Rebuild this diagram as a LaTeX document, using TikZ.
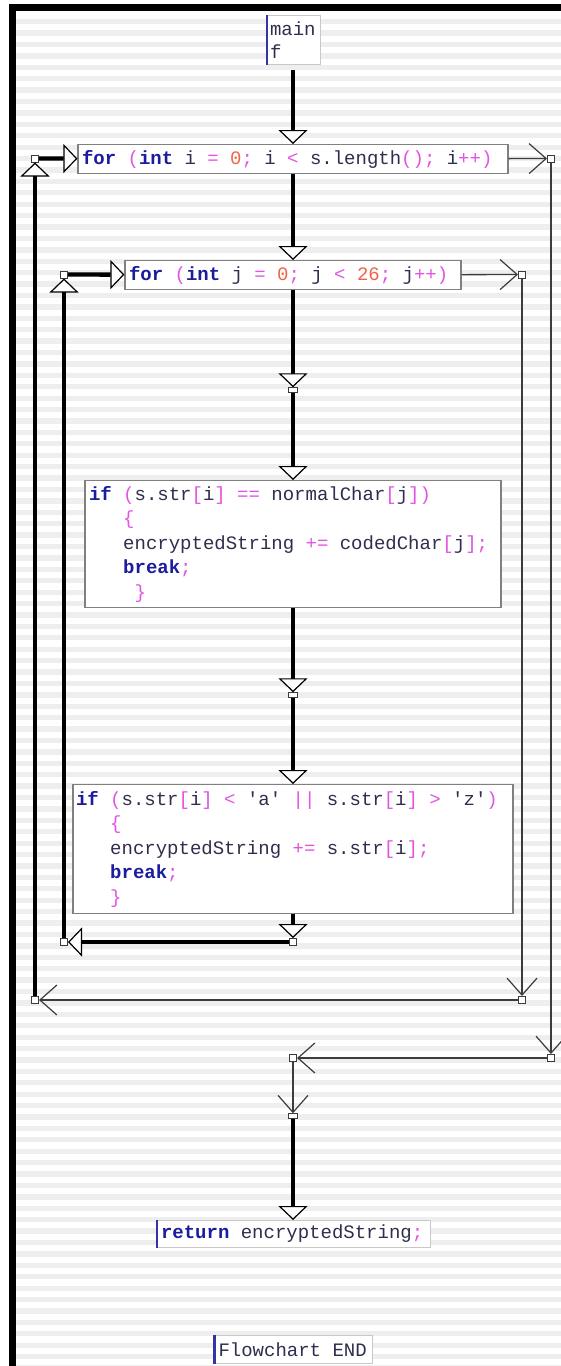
\documentclass[tikz,border=0pt]{standalone}
\usepackage{fontspec}
\usetikzlibrary{arrows.meta}
\newfontfamily\codefont{Liberation Mono}
\definecolor{kwc}{RGB}{28,28,158}
\definecolor{idc}{RGB}{46,46,78}
\definecolor{opc}{RGB}{226,84,226}
\definecolor{numc}{RGB}{242,98,72}
\definecolor{stripec}{RGB}{238,238,238}
\definecolor{barc}{RGB}{52,52,168}
\definecolor{edgec}{RGB}{128,128,128}
\definecolor{paleedge}{RGB}{200,200,200}
\definecolor{wirec}{RGB}{60,60,60}
% syntax colouring of the code text
\newcommand\cKw[1]{\textcolor{kwc}{\bfseries #1}}
\newcommand\cId[1]{\textcolor{idc}{#1}}
\newcommand\cOp[1]{\textcolor{opc}{#1}}
\newcommand\cNum[1]{\textcolor{numc}{#1}}
% one character cell of blank space
\newcommand\cS{\hspace{0.6em}}
\tikzset{
  codebox/.style={draw=edgec, line width=1.2pt, fill=white, anchor=north, align=left,
    inner ysep=2pt, font=\codefont\fontsize{19}{24.5}\selectfont},
  labelbox/.style={draw=paleedge, line width=1pt, fill=white, anchor=north, align=left,
    inner ysep=2pt, font=\codefont\fontsize{19}{23}\selectfont, text=idc},
  sq/.style={draw=wirec, fill=white, line width=1pt, minimum size=7pt, inner sep=0pt},
  jn/.style={draw=wirec, fill=white, line width=1pt, minimum width=9pt, minimum height=4.5pt, inner sep=0pt},
  flow/.style={line width=4.3pt, -{Triangle[length=14pt, width=29pt, fill=white, line width=1.2pt]}},
  wire/.style={draw=wirec, line width=1.3pt, -{Straight Barb[length=17pt, width=30pt, line width=1.2pt]}},
  bluebar/.style={draw=barc, line width=2.5pt},
}
\begin{document}
\begin{tikzpicture}[x=1pt, y=-1pt]
\useasboundingbox (0,0) rectangle (561,1366);
% striped canvas and frame
\fill[white] (0,0) rectangle (561,1366);
\foreach \k in {0,...,118} {
  \fill[stripec] (16,{19+11.41*\k}) rectangle (561,{24.3+11.41*\k});
}
\fill[black] (9,4.3) rectangle (16,1366);
\fill[black] (9,4.3) rectangle (561,10.7);

% statement boxes
\node[labelbox, inner xsep=4pt, text width=46pt, minimum height=49pt] (mainbox) at (293,15)
  {main\\f};
\node[codebox, inner xsep=4pt, text width=422pt, minimum height=29pt] (fori) at (293,144)
  {\cKw{for}\cS\cOp{(}\cKw{int}\cS\cId{i}\cS\cOp{=}\cS\cNum{0}\cOp{;}\cS\cId{i}\cS\cOp{<}\cS\cId{s.length}\cOp{();}\cS\cId{i}\cOp{++)}};
\node[codebox, inner xsep=4pt, text width=328pt, minimum height=29pt] (forj) at (293,260)
  {\cKw{for}\cS\cOp{(}\cKw{int}\cS\cId{j}\cS\cOp{=}\cS\cNum{0}\cOp{;}\cS\cId{j}\cS\cOp{<}\cS\cNum{26}\cOp{;}\cS\cId{j}\cOp{++)}};
\node[codebox, inner xsep=4pt, text width=408pt, minimum height=127pt] (ifa) at (293,480)
  {\cKw{if}\cS\cOp{(}\cId{s.str}\cOp{[}\cId{i}\cOp{]}\cS\cOp{==}\cS\cId{normalChar}\cOp{[}\cId{j}\cOp{])}\\
   \hspace*{1.8em}\cOp{\{}\\
   \hspace*{1.8em}\cId{encryptedString}\cS\cOp{+=}\cS\cId{codedChar}\cOp{[}\cId{j}\cOp{];}\\
   \hspace*{1.8em}\cKw{break}\cOp{;}\\
   \hspace*{2.4em}\cOp{\}}};
\node[codebox, inner xsep=3pt, text width=434pt, minimum height=129pt] (ifb) at (293,784)
  {\cKw{if}\cS\cOp{(}\cId{s.str}\cOp{[}\cId{i}\cOp{]}\cS\cOp{<}\cS\cId{'a'}\cS\cOp{||}\cS\cId{s.str}\cOp{[}\cId{i}\cOp{]}\cS\cOp{>}\cS\cId{'z'}\cOp{)}\\
   \hspace*{1.8em}\cOp{\{}\\
   \hspace*{1.8em}\cId{encryptedString}\cS\cOp{+=}\cS\cId{s.str}\cOp{[}\cId{i}\cOp{];}\\
   \hspace*{1.8em}\cKw{break}\cOp{;}\\
   \hspace*{1.8em}\cOp{\}}};
\node[labelbox, inner xsep=5pt, text width=264pt, minimum height=27pt] (ret) at (293,1220)
  {\cKw{return}\cS\cId{encryptedString}\cOp{;}};
\node[labelbox, inner xsep=5pt, text width=149pt, minimum height=28pt] (fend) at (293,1335)
  {Flowchart\cS END};
\foreach \b in {mainbox, ret, fend}
  \draw[bluebar] ([xshift=1.25pt]\b.north west) -- ([xshift=1.25pt]\b.south west);

% junction points
\node[sq] (Li) at (35,158.5) {};
\node[sq] (Ri) at (551,158.5) {};
\node[sq] (Lj) at (64,274.5) {};
\node[sq] (Rj) at (522,274.5) {};
\node[jn] (J1) at (293,390) {};
\node[jn] (J2) at (293,695) {};
\node[sq] (J3) at (293,942) {};
\node[sq] (Lb) at (64,942) {};
\node[sq] (Bj) at (522,1000) {};
\node[sq] (Bi) at (35,1000) {};
\node[sq] (Ei) at (551,1058) {};
\node[sq] (Em) at (293,1058) {};
\node[jn] (J4) at (293,1116) {};

% main flow
\draw[flow, shorten <=5pt] (mainbox) -- (fori);
\draw[flow] (fori) -- (forj);
\draw[flow] (forj) -- (J1);
\draw[flow] (J1) -- (ifa);
\draw[flow] (ifa) -- (J2);
\draw[flow] (J2) -- (ifb);
\draw[flow] (ifb) -- (J3);
\draw[flow] (J3) -- (Lb);
\draw[flow] (Lb) -- (Lj);
\draw[flow] (Lj) -- (forj);
\draw[flow] (Bi) -- (Li);
\draw[flow] (Li) -- (fori);
\draw[flow] (J4) -- (ret);

% loop exits
\draw[wire] (forj) -- (Rj);
\draw[wire] (Rj) -- (Bj);
\draw[wire] (Bj) -- (Bi);
\draw[wire] (fori) -- (Ri);
\draw[wire] (Ri) -- (Ei);
\draw[wire] (Ei) -- (Em);
\draw[wire] (Em) -- (J4);
\end{tikzpicture}
\end{document}
